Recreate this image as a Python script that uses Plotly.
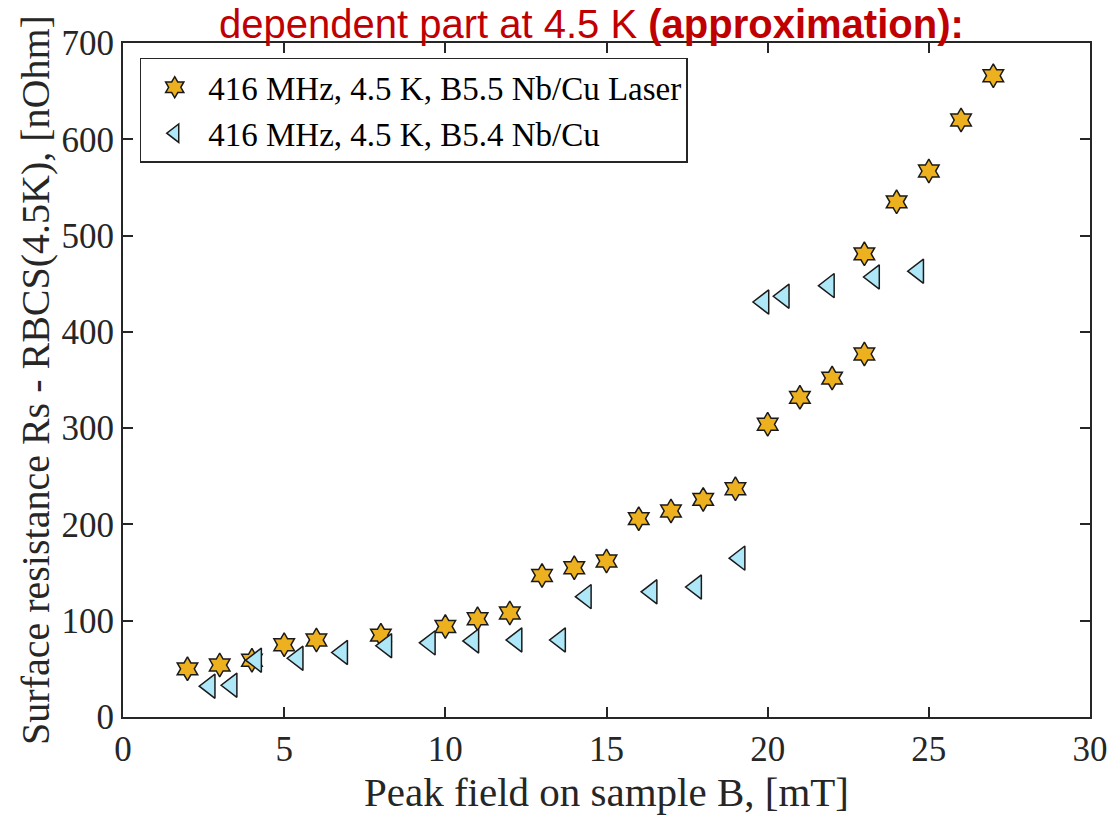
import plotly.graph_objects as go

laser_x = [2, 3, 4, 5, 6, 8, 10, 11, 12, 13, 14, 15, 16, 17, 18, 19, 20, 21, 22, 23, 23, 24, 25, 26, 27]
laser_y = [50, 54, 59, 75, 80, 85, 94, 102, 108, 147, 155, 162, 206, 214, 226, 237, 304, 332, 352, 377, 481, 535, 567, 620, 666]

ref_x = [2.69, 3.37, 4.13, 5.42, 6.8, 8.17, 9.52, 10.87, 12.21, 13.56, 14.36, 16.4, 17.78, 19.13, 19.87, 20.5, 21.9, 23.3, 24.67]
ref_y = [32, 33, 59, 61, 67, 74, 77, 79, 80, 80, 125, 130, 135, 165, 431, 437, 448, 457, 463]

name_laser = "416 MHz, 4.5 K, B5.5 Nb/Cu Laser"
name_ref = "416 MHz, 4.5 K, B5.4 Nb/Cu"

x_ticks = [0, 5, 10, 15, 20, 25, 30]
y_ticks = [0, 100, 200, 300, 400, 500, 600, 700]

serif = "Liberation Serif, Times New Roman, serif"
axcol = "#262626"

fig = go.Figure()
fig.add_trace(go.Scatter(
    x=laser_x, y=laser_y, mode="markers", name=name_laser,
    marker=dict(symbol="hexagram", size=18, color="#EDB120",
                line=dict(color="#1a1a1a", width=1.5)),
))
fig.add_trace(go.Scatter(
    x=ref_x, y=ref_y, mode="markers", name=name_ref,
    marker=dict(symbol="triangle-left", size=21, color="#AEE8F8",
                line=dict(color="#1a1a1a", width=1.5)),
))

axis_common = dict(
    showgrid=False, zeroline=False, showline=True, linecolor=axcol, linewidth=2,
    mirror="ticks", ticks="inside", ticklen=10, tickwidth=1.5, tickcolor=axcol,
    tickfont=dict(family=serif, size=35, color=axcol),
    ticklabeloverflow="allow",
)

fig.update_layout(
    width=1120, height=819,
    margin=dict(l=123, r=20, t=43, b=102),
    paper_bgcolor="white", plot_bgcolor="white",
    xaxis=dict(range=[0, 30], tickvals=x_ticks,
               title=dict(text="Peak field on sample B, [mT]",
                          font=dict(family=serif, size=41, color=axcol), standoff=6),
               **axis_common),
    yaxis=dict(range=[0, 700], tickvals=y_ticks,
               title=dict(text="Surface resistance Rs - RBCS(4.5K), [nOhm]",
                          font=dict(family=serif, size=40, color=axcol), standoff=0),
               **axis_common),
    legend=dict(x=0.0173, y=0.978, xanchor="left", yanchor="top",
                bgcolor="white", bordercolor=axcol, borderwidth=1.5,
                font=dict(family=serif, size=33, color="black"),
                itemwidth=57, tracegroupgap=0),
    showlegend=True,
    annotations=[dict(
        text="dependent part at 4.5 K <b>(approximation):</b>",
        xref="paper", yref="paper", x=0.485, y=1.0638, xanchor="center", yanchor="top",
        showarrow=False, font=dict(family="Liberation Sans, Arial, sans-serif", size=40, color="#C00000"),
    )],
)

fig.write_html("out.html")
